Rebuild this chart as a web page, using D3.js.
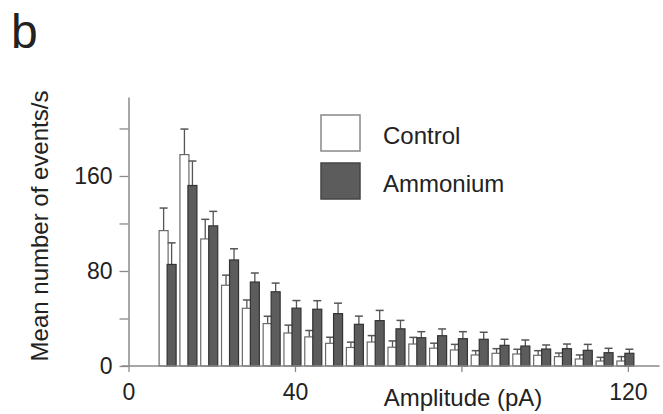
<!DOCTYPE html>
<html>
<head>
<meta charset="utf-8">
<script src="https://cdn.jsdelivr.net/npm/d3@7"></script>
<style>
  body { margin: 0; background: #fff; }
  text { font-family: Arial, "Liberation Sans", Helvetica, sans-serif; fill: #222; }
</style>
</head>
<body>
<div id="chart"></div>
<script>
// amplitude bins (pA)
const amplitude = [10, 15, 20, 25, 30, 35, 40, 45, 50, 55, 60, 65, 70, 75, 80, 85, 90, 95, 100, 105, 110, 115, 120];

// mean number of events/s and SEM
const controlMean = [114, 178, 107, 68, 48.6, 35.7, 27.8, 24.5, 19.1, 15.6, 20.2, 15.8, 18.5, 15, 13.5, 9.3, 10.7, 10.1, 9, 7.9, 5.9, 4.2, 4.2];
const controlErr  = [19, 21.5, 16.5, 8.5, 7, 6.2, 6.6, 5.4, 5.1, 4.5, 5.4, 5.3, 5.6, 4.2, 4.7, 3.6, 3.9, 4, 3.9, 3, 3.4, 3.1, 3.7];
const ammoniumMean = [85.5, 152, 118, 89.3, 70.7, 62.5, 48.7, 47.8, 44.1, 35.1, 38.2, 31.3, 23.8, 25.5, 23, 22.5, 17.4, 16.8, 14.3, 14.6, 13.2, 11.2, 10.7];
const ammoniumErr  = [18.2, 20.6, 12.2, 9.4, 7.6, 7.3, 6.4, 7.2, 8.8, 6.9, 8.6, 7.1, 5.1, 5.7, 5.9, 5.9, 5.1, 5.1, 3.4, 3.9, 5, 3.7, 3.4];

const yTicks = [0, 40, 80, 120, 160, 200];
const yLabelled = [0, 80, 160];
const xTicks = [0, 40, 80, 120];
const xLabelled = [0, 40, 120];

const series = [
  { name: "Control", mean: controlMean, err: controlErr, fill: "#ffffff", stroke: "#6a6a6a", offset: -11 },
  { name: "Ammonium", mean: ammoniumMean, err: ammoniumErr, fill: "#5c5c5c", stroke: "#333333", offset: -3 }
];

const W = 663, H = 414;
const barW = 9;

const svg = d3.select("#chart")
  .append("svg")
  .attr("width", W)
  .attr("height", H);

const x = d3.scaleLinear()
  .domain([0, 127.6])
  .range([128.5, 659.5]);

const y = d3.scaleLinear()
  .domain([0, 226.5])
  .range([366, 97]);

// bars
series.forEach(s => {
  const g = svg.append("g");

  // error bars (drawn first, bar covers the lower part)
  g.selectAll("line.err")
    .data(amplitude)
    .enter()
    .append("line")
    .attr("x1", (d, i) => x(d) + s.offset + barW / 2)
    .attr("x2", (d, i) => x(d) + s.offset + barW / 2)
    .attr("y1", (d, i) => y(s.mean[i]))
    .attr("y2", (d, i) => y(s.mean[i] + s.err[i]))
    .attr("stroke", "#555")
    .attr("stroke-width", 1.3);

  g.selectAll("line.cap")
    .data(amplitude)
    .enter()
    .append("line")
    .attr("x1", (d, i) => x(d) + s.offset + 0.5)
    .attr("x2", (d, i) => x(d) + s.offset + barW - 0.5)
    .attr("y1", (d, i) => y(s.mean[i] + s.err[i]))
    .attr("y2", (d, i) => y(s.mean[i] + s.err[i]))
    .attr("stroke", "#555")
    .attr("stroke-width", 1.5);

  g.selectAll("rect")
    .data(amplitude)
    .enter()
    .append("rect")
    .attr("x", d => x(d) + s.offset)
    .attr("y", (d, i) => y(s.mean[i]))
    .attr("width", barW)
    .attr("height", (d, i) => y(0) - y(s.mean[i]))
    .attr("fill", s.fill)
    .attr("stroke", s.stroke)
    .attr("stroke-width", 1.2);
});

// axes
const yAxis = d3.axisLeft(y)
  .tickValues(yTicks)
  .tickSize(9)
  .tickSizeOuter(0)
  .tickPadding(7)
  .tickFormat(d => yLabelled.includes(d) ? d : "");

const yG = svg.append("g")
  .attr("transform", `translate(${x(0)},0)`)
  .call(yAxis);

const xAxis = d3.axisBottom(x)
  .tickValues(xTicks)
  .tickSize(6)
  .tickSizeOuter(0)
  .tickPadding(12)
  .tickFormat(d => xLabelled.includes(d) ? d : "");

const xG = svg.append("g")
  .attr("transform", `translate(0,${y(0)})`)
  .call(xAxis);

[yG, xG].forEach(g => {
  g.select(".domain").attr("stroke", "#8a8a8a").attr("stroke-width", 1.5);
  g.selectAll(".tick line").attr("stroke", "#8a8a8a").attr("stroke-width", 1.3);
  g.selectAll(".tick text")
    .style("font-size", "23px")
    .style("font-family", "Arial, 'Liberation Sans', Helvetica, sans-serif")
    .attr("fill", "#222");
});
xG.select(".domain").attr("d", `M${x(0) - 7},0H${x(127.6)}`);

// axis titles
svg.append("text")
  .attr("x", 463)
  .attr("y", 406)
  .attr("text-anchor", "middle")
  .style("font-size", "24px")
  .text("Amplitude (pA)");

svg.append("text")
  .attr("transform", "translate(48,226) rotate(-90)")
  .attr("text-anchor", "middle")
  .style("font-size", "24px")
  .text("Mean number of events/s");

// panel letter
svg.append("text")
  .attr("x", 11)
  .attr("y", 48)
  .style("font-size", "48px")
  .text("b");

// legend
const legend = svg.append("g")
  .attr("transform", "translate(321,115)");

legend.selectAll("rect")
  .data(series)
  .enter()
  .append("rect")
  .attr("x", 0)
  .attr("y", (d, i) => i * 48)
  .attr("width", 39)
  .attr("height", 36)
  .attr("fill", d => d.fill)
  .attr("stroke", d => d.name === "Control" ? "#888" : "#444")
  .attr("stroke-width", 1.5);

legend.selectAll("text")
  .data(series)
  .enter()
  .append("text")
  .attr("x", 62)
  .attr("y", (d, i) => 29 + i * 47.5)
  .style("font-size", "24px")
  .text(d => d.name);
</script>
</body>
</html>
